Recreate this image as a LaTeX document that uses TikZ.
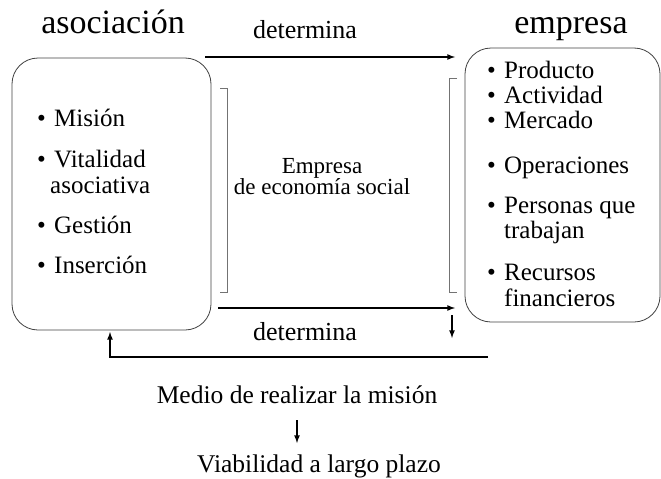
\documentclass[tikz,border=0pt]{standalone}
\usepackage{fontspec}
\setmainfont{Liberation Serif}
\usetikzlibrary{arrows}

\tikzset{
	caja/.style={draw=black!75, line width=0.8pt, rounded corners=26pt},
	titulo/.style={font=\fontsize{34}{38}\selectfont, anchor=base},
	texto/.style={font=\fontsize{25}{28}\selectfont, anchor=base west, inner sep=0pt},
	rotulo/.style={font=\fontsize{26}{29}\selectfont, anchor=base},
	flecha/.style={->,>=latex, line width=1.6pt},
	corchete/.style={draw=black!55, line width=0.8pt}
}
\newcommand{\punto}{\makebox[17pt][l]{\textbullet}}

\begin{document}
\begin{tikzpicture}[x=1pt,y=-1pt]
\useasboundingbox (0,0) rectangle (661,479);
% cajas
\node[caja, minimum width=199pt, minimum height=272pt] (asoc) at (111.5,194) {};
\node[caja, minimum width=195pt, minimum height=274pt] (emp) at (562.5,185) {};
\node[titulo] (tasoc) at (113,33) {asociación};
\node[titulo] (temp) at (571,33) {empresa};
% asociacion
\node[texto] (mision) at (37,126) {\punto Misión};
\node[texto] (vital) at (37,167) {\punto Vitalidad};
\node[texto] (vital2) at (50,193) {asociativa};
\node[texto] (gestion) at (37,233) {\punto Gestión};
\node[texto] (insercion) at (37,273) {\punto Inserción};
% empresa
\node[texto] (producto) at (487,78) {\punto Producto};
\node[texto] (actividad) at (487,103) {\punto Actividad};
\node[texto] (mercado) at (487,128) {\punto Mercado};
\node[texto] (operac) at (487,173) {\punto Operaciones};
\node[texto] (personas) at (487,213) {\punto Personas que};
\node[texto] (personas2) at (504,238) {trabajan};
\node[texto] (recursos) at (487,280) {\punto Recursos};
\node[texto] (recursos2) at (504,306) {financieros};
% centro
\node[align=center, inner sep=0pt, font=\fontsize{23}{21}\selectfont] (ees) at (322,177) {Empresa\\de economía social};
\node[rotulo] (det1) at (305,38) {determina};
\node[rotulo] (det2) at (305,340) {determina};
\node[rotulo, font=\fontsize{25.5}{29}\selectfont] (medio) at (297,403) {Medio de realizar la misión};
\node[rotulo, font=\fontsize{25.5}{29}\selectfont] (viab) at (319,472) {Viabilidad a largo plazo};
% corchetes
\draw[corchete] (220,88) -- (227,88) -- (227,292) -- (220,292);
\draw[corchete] (457,78) -- (449,78) -- (449,292) -- (457,292);
% flechas
\coordinate (a1) at (205,57);
\coordinate (b1) at (455,57);
\coordinate (a2) at (218,308);
\coordinate (b2) at (455,308);
\coordinate (c1) at (452,315);
\coordinate (c2) at (452,338);
\coordinate (r1) at (488,357);
\coordinate (r2) at (110,332);
\coordinate (m1) at (297,420);
\coordinate (m2) at (297,443);
\draw[flecha] (a1) -- (b1);
\draw[flecha] (a2) -- (b2);
\draw[flecha] (c1) -- (c2);
\draw[flecha] (r1) -| (r2);
\draw[flecha] (m1) -- (m2);
\end{tikzpicture}
\end{document}
